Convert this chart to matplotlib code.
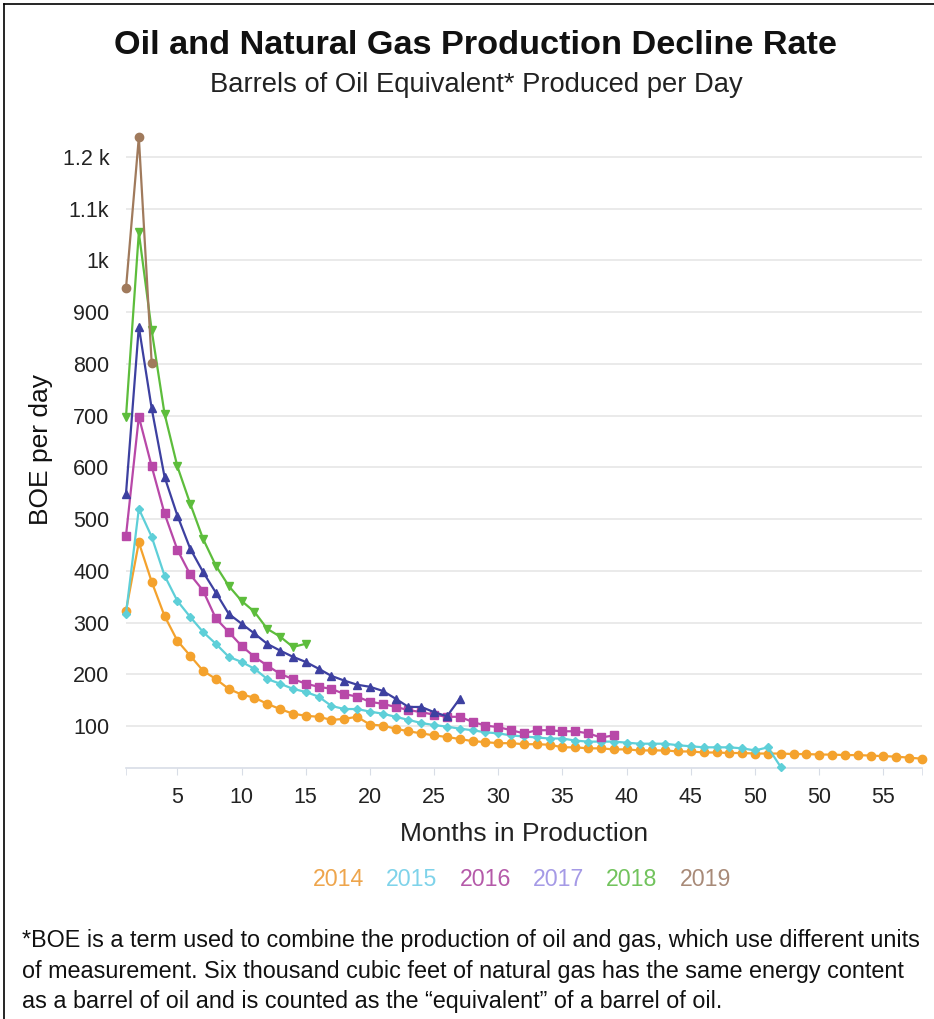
import numpy as np
import matplotlib
matplotlib.use("Agg")
import matplotlib.pyplot as plt
from matplotlib.lines import Line2D

plt.rcParams['font.family'] = ['Liberation Sans', 'DejaVu Sans']

# Data (BOE per day by month in production)
years = ['2014', '2015', '2016', '2017', '2018', '2019']

boe_2014 = [323, 455, 379, 313, 265, 236, 207, 191, 172, 161, 155, 143, 133, 124, 120,
            118, 112, 114, 118, 103, 101, 95, 90, 86, 82, 79, 75, 71, 69, 67, 67, 65,
            65, 64, 59, 59, 57, 57, 55, 55, 53, 53, 53, 51, 51, 49, 49, 48, 48, 47, 47,
            47, 46, 46, 45, 45, 44, 44, 43, 42, 41, 39, 37]
boe_2015 = [317, 520, 466, 391, 342, 311, 282, 259, 234, 224, 211, 191, 182, 172, 166,
            157, 139, 133, 133, 128, 124, 118, 112, 106, 102, 99, 95, 92, 88, 86, 82,
            80, 78, 76, 76, 72, 70, 70, 70, 68, 66, 66, 66, 63, 61, 59, 59, 59, 57, 53,
            59, 21]
boe_2016 = [468, 698, 602, 511, 441, 393, 362, 308, 282, 255, 234, 217, 201, 191, 182,
            176, 172, 162, 157, 147, 143, 137, 131, 127, 122, 118, 118, 108, 101, 98,
            92, 86, 92, 92, 90, 90, 86, 78, 82]
boe_2017 = [549, 872, 714, 582, 507, 443, 398, 358, 317, 298, 279, 259, 246, 234, 224,
            211, 197, 188, 180, 176, 168, 153, 137, 137, 127, 119, 153]
boe_2018 = [698, 1054, 865, 704, 602, 530, 462, 410, 371, 342, 321, 288, 273, 253, 259]
boe_2019 = [946, 1238, 802]

series = [boe_2014, boe_2015, boe_2016, boe_2017, boe_2018, boe_2019]
line_colors = ['#f4a22d', '#5ecfd8', '#b848a8', '#3d40a0', '#5dbd3c', '#a07a5c']
legend_colors = ['#eea54c', '#7fd3ea', '#b55aa9', '#a59ae6', '#72c35d', '#a88a78']
markers = ['o', 'D', 's', '^', 'v', 'o']
marker_sizes = [6, 4, 6, 6, 6, 6]

y_ticks = [100, 200, 300, 400, 500, 600, 700, 800, 900, 1000, 1100, 1200]
y_tick_labels = ['100', '200', '300', '400', '500', '600', '700', '800', '900',
                 '1k', '1.1k', '1.2 k']
x_ticks = [5, 10, 15, 20, 25, 30, 35, 40, 45, 50, 55, 60]
x_tick_labels = ['5', '10', '15', '20', '25', '30', '35', '40', '45', '50', '50', '55']

fig = plt.figure(figsize=(9.34, 10.19), dpi=100)
ax = fig.add_axes([0.1349, 0.2463, 0.8522, 0.6251])

for vals, col, mk, ms, yr in zip(series, line_colors, markers, marker_sizes, years):
    months = np.arange(1, len(vals) + 1)
    ax.plot(months, vals, color=col, marker=mk, markersize=ms, linewidth=1.6,
            label=yr, clip_on=False, zorder=3)

ax.set_xlim(1, 63)
ax.set_ylim(19, 1250)
ax.set_yticks(y_ticks)
ax.set_yticklabels(y_tick_labels)
ax.set_xticks(x_ticks)
ax.set_xticklabels(x_tick_labels)
ax.set_xticks([1, 63], minor=True)

ax.grid(axis='y', color='#e6e6e6', linewidth=1.2)
ax.set_axisbelow(True)
for side in ['left', 'right', 'top']:
    ax.spines[side].set_visible(False)
ax.spines['bottom'].set_color('#d8dde6')
ax.spines['bottom'].set_linewidth(1.2)

ax.tick_params(axis='y', length=0, pad=12, labelsize=15.5, labelcolor='#222222')
ax.tick_params(axis='x', which='both', length=5, color='#d8dde6', pad=9,
               labelsize=15.5, labelcolor='#222222')

ax.set_xlabel('Months in Production', fontsize=19, color='#222222', labelpad=10)
ax.set_ylabel('BOE per day', fontsize=19, color='#111111', labelpad=7)

leg = fig.legend(ncol=6, loc='center', bbox_to_anchor=(522 / 934, 1 - 879 / 1019),
                 frameon=False, handlelength=0, handletextpad=0, columnspacing=0.95,
                 fontsize=16.7, labelcolor=legend_colors)
for h in leg.legend_handles:
    h.set_visible(False)

fig.text(475 / 934, 1 - 45 / 1019, 'Oil and Natural Gas Production Decline Rate',
         ha='center', va='center', fontsize=24.7, fontweight='bold', color='#111111')
fig.text(476 / 934, 1 - 85 / 1019, 'Barrels of Oil Equivalent* Produced per Day',
         ha='center', va='center', fontsize=19.7, color='#222222')

footnote = ('*BOE is a term used to combine the production of oil and gas, which use different units\n'
            'of measurement. Six thousand cubic feet of natural gas has the same energy content\n'
            'as a barrel of oil and is counted as the \u201cequivalent\u201d of a barrel of oil.')
fig.text(22 / 934, 1 - 929 / 1019, footnote, ha='left', va='top', fontsize=16.8,
         color='#111111', linespacing=1.42)

# frame lines of the original screenshot
fig.add_artist(Line2D([4 / 934, 4 / 934], [0, 1 - 4 / 1019], color='black', linewidth=1.2))
fig.add_artist(Line2D([4 / 934, 1], [1 - 4 / 1019, 1 - 4 / 1019], color='black', linewidth=1.2))

fig.savefig('out.png', dpi=100)
